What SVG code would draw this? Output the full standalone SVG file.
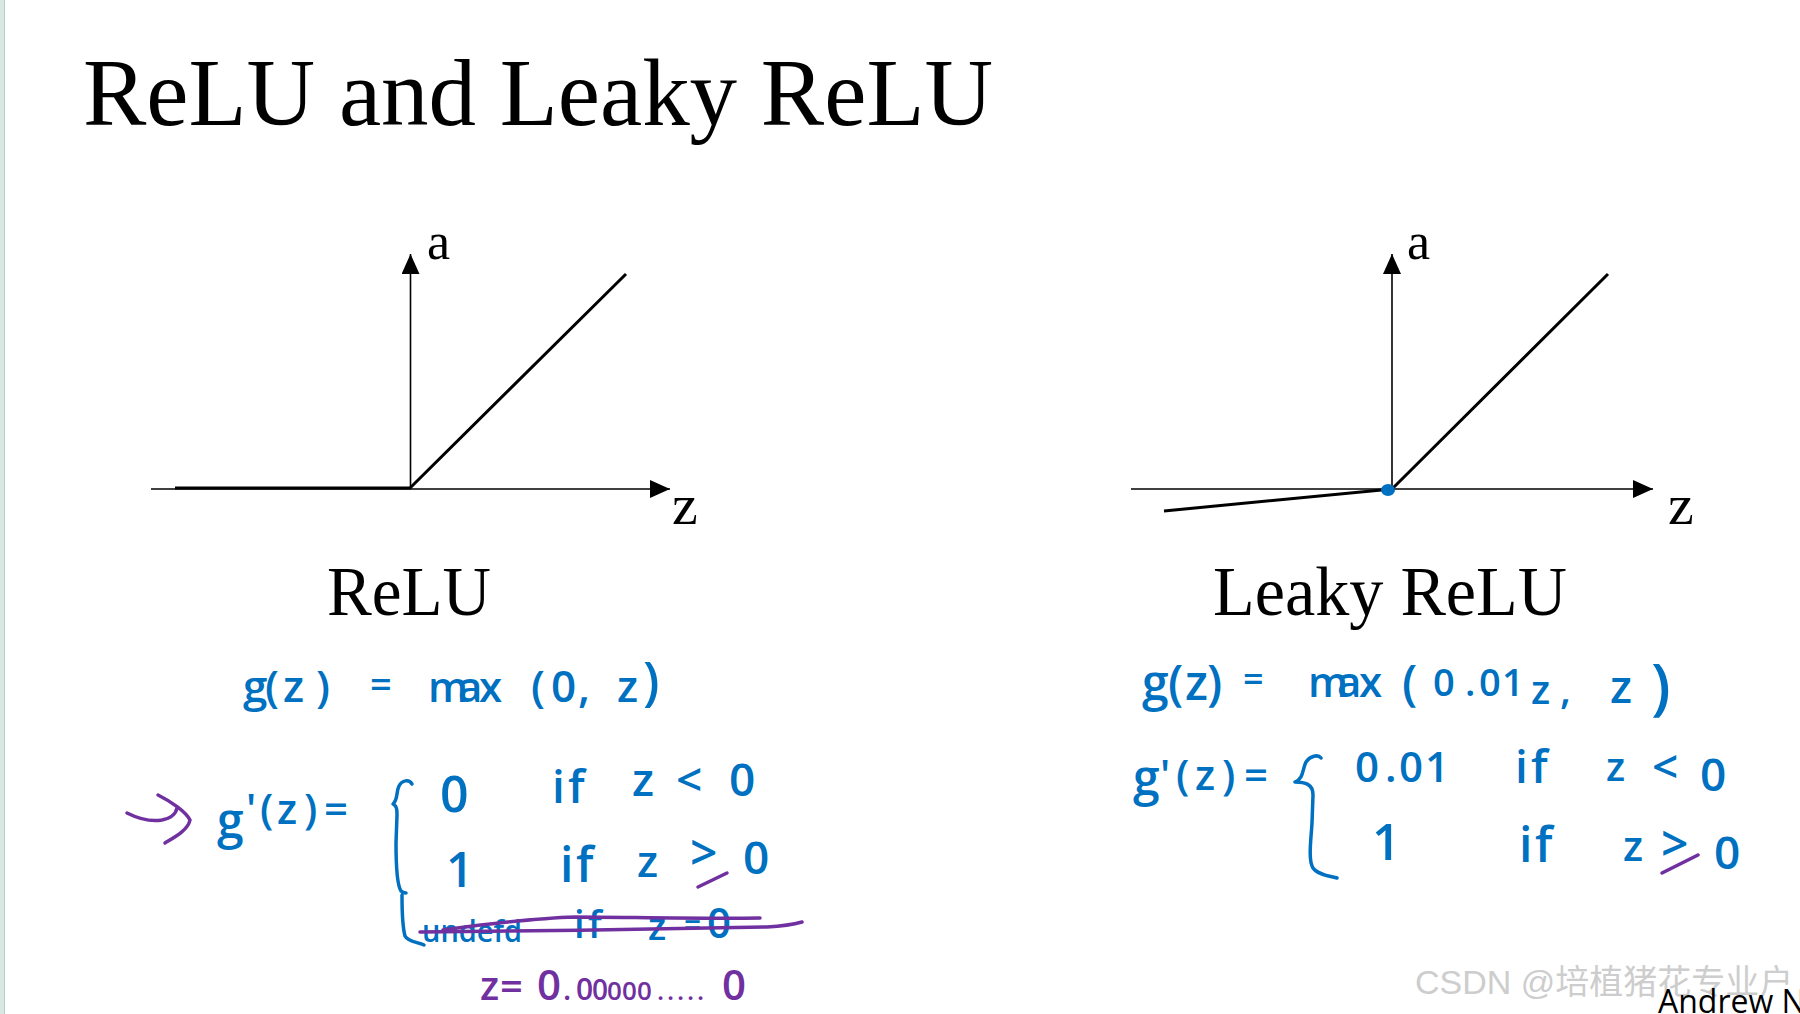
<svg xmlns="http://www.w3.org/2000/svg" width="1800" height="1014" viewBox="0 0 1800 1014">
<style>
.serif{font-family:"Liberation Serif","DejaVu Serif",serif;fill:#000}
.hw{font-family:"Open Sans","Liberation Sans",sans-serif;fill:#0070C0;font-weight:600}
.pu{font-family:"Open Sans","Liberation Sans",sans-serif;fill:#7030A0;font-weight:600}
.axis{stroke:#000;stroke-width:1.6;fill:none}
.curve{stroke:#000;stroke-width:3;fill:none;stroke-linejoin:round}
.bst{stroke:#0070C0;stroke-width:3.5;fill:none;stroke-linecap:round;stroke-linejoin:round}
.pst{stroke:#7030A0;stroke-width:3.5;fill:none;stroke-linecap:round;stroke-linejoin:round}
</style>
<defs>
<marker id="ah" viewBox="0 0 20 18" refX="20" refY="9" markerWidth="20" markerHeight="18" markerUnits="userSpaceOnUse" orient="auto">
<path d="M0,0 L20,9 L0,18 Z" fill="#000"/>
</marker>
</defs>
<rect width="1800" height="1014" fill="#fff"/>
<rect x="0" y="0" width="5" height="1014" fill="#d7e7e2"/>
<line x1="4.5" y1="0" x2="4.5" y2="1014" stroke="#b3cfc8" stroke-width="1"/>

<g id="title">
<text class="serif" x="83" y="125" font-size="96" textLength="910" lengthAdjust="spacingAndGlyphs">ReLU and Leaky ReLU</text>
</g>

<g id="chart-relu">
<line class="axis" x1="151" y1="489" x2="670" y2="489" marker-end="url(#ah)"/>
<line class="axis" x1="410.5" y1="489" x2="410.5" y2="254" marker-end="url(#ah)"/>
<polyline class="curve" points="175,488 410,488 626,274"/>
<text class="serif" x="427" y="259" font-size="52">a</text>
<text class="serif" x="672" y="524" font-size="58">z</text>
<text class="serif" x="327" y="615" font-size="70" textLength="164" lengthAdjust="spacingAndGlyphs">ReLU</text>
</g>

<g id="chart-leaky">
<line class="axis" x1="1131" y1="489" x2="1653" y2="489" marker-end="url(#ah)"/>
<line class="axis" x1="1392" y1="489" x2="1392" y2="254" marker-end="url(#ah)"/>
<polyline class="curve" points="1164,511 1392,489 1608,274"/>
<ellipse cx="1388" cy="490" rx="7" ry="6" fill="#0070C0"/>
<text class="serif" x="1407" y="259" font-size="52">a</text>
<text class="serif" x="1668" y="524" font-size="58">z</text>
<text class="serif" x="1213" y="615" font-size="70" textLength="354" lengthAdjust="spacingAndGlyphs">Leaky ReLU</text>
</g>

<g id="relu-formula">
<text class="hw" y="702" font-size="44" x="243 265 283 316">g(z)</text>
<text class="hw" y="698" font-size="38" x="370">=</text>
<text class="hw" y="702" font-size="42" x="428 458 479">max</text>
<text class="hw" y="702" font-size="44" x="531 551 578">(0,</text>
<text class="hw" y="702" font-size="44" x="617">z</text>
<text class="hw" y="700" font-size="52" x="643">)</text>
</g>

<g id="relu-derivative">
<path class="pst" d="M127,813 C137,818 150,822 162,820 C172,818 176,813 177,808"/>
<path class="pst" d="M158,795 C172,802 186,812 190,820 C188,830 175,837 165,843"/>
<text class="hw" y="838" font-size="48" x="217">g</text>
<text class="hw" y="824" font-size="42" x="246 260 277 304 324">'(z)=</text>
<path class="bst" d="M412,784 C409,779 402,780 399,786 C396,792 398,800 393,804 C397,806 397,810 397,815 L396,843 C396,870 397,885 401,891 C403,893 406,893 406,893 M402,895 C402,910 402,925 405,936 C408,942 418,942 424,945"/>
<text class="hw" y="812" font-size="50" x="440">0</text>
<text class="hw" y="803" font-size="46" x="552 568">if</text>
<text class="hw" y="796" font-size="46" x="632 676 729">z&lt;0</text>
<text class="hw" y="887" font-size="48" x="446">1</text>
<text class="hw" y="882" font-size="48" x="560 576">if</text>
<text class="hw" y="877" font-size="44" x="637">z</text>
<text class="hw" y="870" font-size="48" x="690">&gt;</text>
<path class="pst" d="M698,887 L727,873"/>
<text class="hw" y="874" font-size="46" x="743">0</text>
<text class="hw" y="942" font-size="30" x="422" textLength="100" lengthAdjust="spacingAndGlyphs">undefd</text>
<text class="hw" y="938" font-size="38" x="574 588">if</text>
<text class="hw" y="940" font-size="38" x="648">z</text>
<text class="hw" y="936" font-size="30" x="684">=</text>
<text class="hw" y="938" font-size="42" x="707">0</text>
<path class="pst" d="M420,932 C520,931 680,929 767,927 C785,926 795,924 802,922"/>
<path class="pst" d="M443,930 C480,925 540,918 575,917 C620,917 700,919 760,918"/>
<text class="pu" y="1000" font-size="40" x="480 500">z=</text>
<text class="pu" y="1000" font-size="42" x="537">0<tspan x="563" font-size="30">.</tspan><tspan x="576" font-size="30">0</tspan><tspan x="592" font-size="28">0</tspan><tspan x="607" font-size="26">0</tspan><tspan x="622" font-size="26">0</tspan><tspan x="637" font-size="26">0</tspan><tspan x="657" font-size="26">.</tspan><tspan x="667" font-size="26">.</tspan><tspan x="677" font-size="26">.</tspan><tspan x="687" font-size="26">.</tspan><tspan x="697" font-size="26">.</tspan><tspan x="722">0</tspan></text>
</g>

<g id="leaky-formula">
<text class="hw" y="700" font-size="48" x="1142 1168 1185 1207">g(z)</text>
<text class="hw" y="692" font-size="36" x="1243">=</text>
<text class="hw" y="697" font-size="42" x="1308 1337 1359">max</text>
<text class="hw" y="700" font-size="48" x="1402">(</text>
<text class="hw" y="696" font-size="38" x="1433 1465 1479 1502">0.01</text>
<text class="hw" y="704" font-size="40" x="1531 1560">z,</text>
<text class="hw" y="703" font-size="46" x="1610">z</text>
<text class="hw" y="708" font-size="62" x="1651">)</text>
</g>

<g id="leaky-derivative">
<text class="hw" y="795" font-size="48" x="1133">g</text>
<text class="hw" y="790" font-size="42" x="1160 1176 1195 1222 1244">'(z)=</text>
<path class="bst" d="M1321,758 C1318,754 1310,756 1306,762 C1302,770 1304,778 1295,782 C1305,782 1313,784 1313,795 L1312,823 C1311,840 1308,860 1313,868 C1318,875 1330,876 1337,878"/>
<text class="hw" y="782" font-size="42" x="1355 1385 1399 1425">0.01</text>
<text class="hw" y="783" font-size="46" x="1515 1531">if</text>
<text class="hw" y="781" font-size="40" x="1606">z</text>
<text class="hw" y="783" font-size="46" x="1652">&lt;</text>
<text class="hw" y="791" font-size="46" x="1700">0</text>
<text class="hw" y="860" font-size="50" x="1372">1</text>
<text class="hw" y="862" font-size="48" x="1519 1535">if</text>
<text class="hw" y="861" font-size="42" x="1623">z</text>
<text class="hw" y="861" font-size="48" x="1661">&gt;</text>
<path class="pst" d="M1662,873 L1698,855"/>
<text class="hw" y="869" font-size="46" x="1714">0</text>
</g>

<g id="footer">
<text x="1415" y="994" font-size="34" fill="#cdcdcd" font-family="'Liberation Sans','Noto Sans CJK SC',sans-serif">CSDN @培植猪花专业户</text>
<text x="1658" y="1013" font-size="32" fill="#000" font-family="'Open Sans','Liberation Sans',sans-serif">Andrew Ng</text>
</g>
</svg>
